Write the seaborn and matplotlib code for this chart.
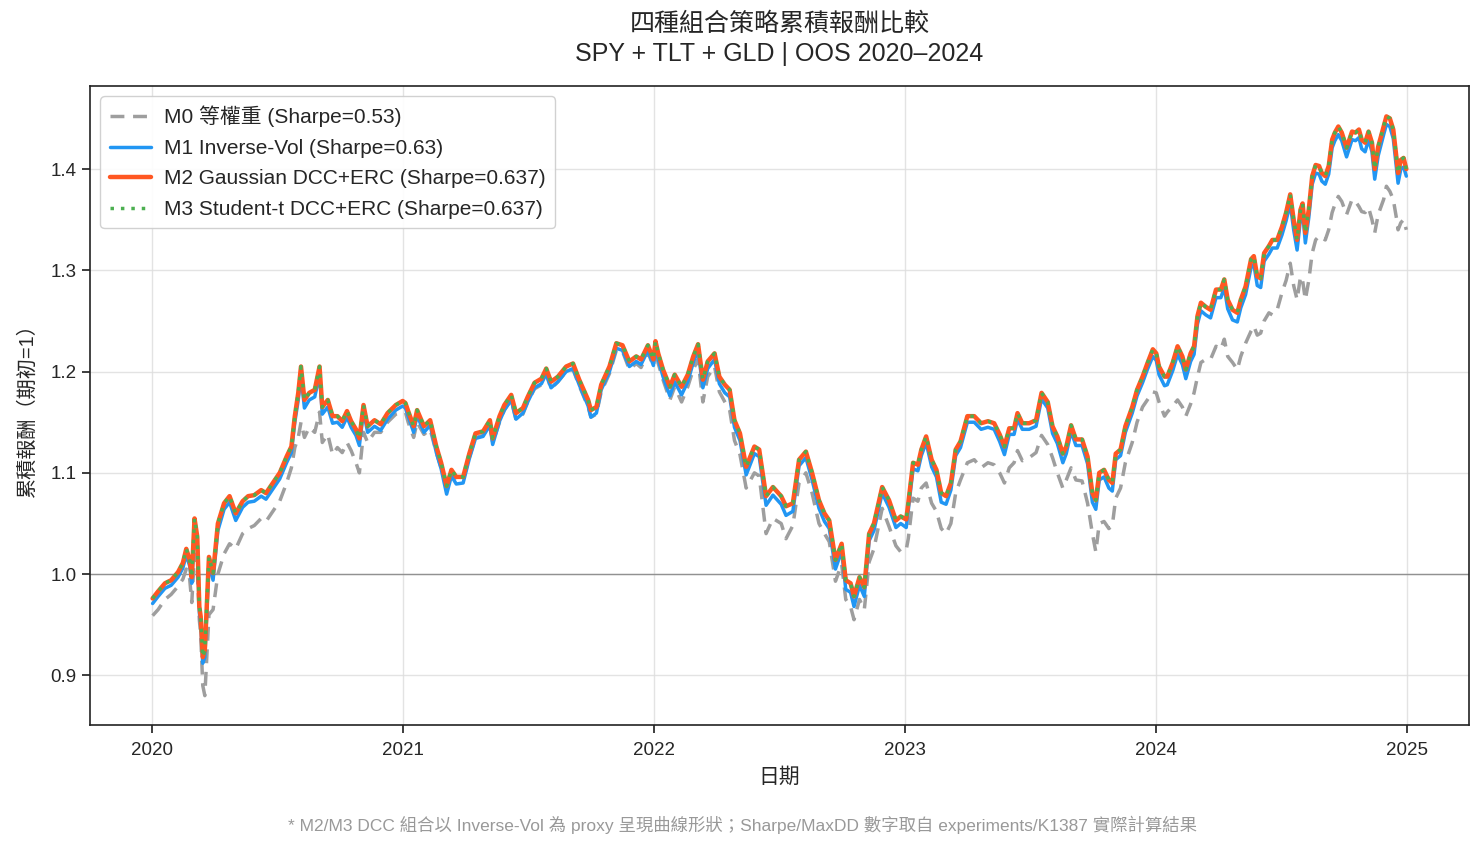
import matplotlib
matplotlib.use("Agg")
import matplotlib.pyplot as plt
import matplotlib.dates as mdates
import seaborn as sns
import pandas as pd

# ---------------- data ----------------
dates_2020 = ["2020-01-02","2020-01-10","2020-01-20","2020-01-29","2020-02-08","2020-02-15","2020-02-20","2020-02-25",
              "2020-02-28","2020-03-03","2020-03-07","2020-03-10","2020-03-12","2020-03-15","2020-03-18","2020-03-24",
              "2020-03-30","2020-04-06","2020-04-15","2020-04-23","2020-05-02","2020-05-12","2020-05-20","2020-05-29",
              "2020-06-08","2020-06-15","2020-06-25","2020-07-05","2020-07-15","2020-07-22","2020-07-27","2020-08-01",
              "2020-08-05","2020-08-10","2020-08-17","2020-08-25","2020-09-01","2020-09-05","2020-09-13","2020-09-20",
              "2020-09-27","2020-10-04","2020-10-11","2020-10-17","2020-10-24","2020-10-29","2020-11-04","2020-11-10",
              "2020-11-20","2020-11-29","2020-12-09","2020-12-21","2020-12-31"]
dates_2021 = ["2021-01-04","2021-01-08","2021-01-16","2021-01-21","2021-01-31","2021-02-09","2021-02-18","2021-02-25",
              "2021-03-05","2021-03-12","2021-03-19","2021-03-29","2021-04-07","2021-04-16","2021-04-27","2021-05-07",
              "2021-05-11","2021-05-21","2021-05-28","2021-06-07","2021-06-14","2021-06-24","2021-07-01","2021-07-11",
              "2021-07-21","2021-07-28","2021-08-04","2021-08-14","2021-08-26","2021-09-05","2021-09-14","2021-09-27",
              "2021-10-01","2021-10-09","2021-10-16","2021-10-28","2021-11-07","2021-11-16","2021-11-26","2021-12-06",
              "2021-12-13","2021-12-23","2021-12-31"]
dates_2022 = ["2022-01-03","2022-01-07","2022-01-14","2022-01-24","2022-01-31","2022-02-10","2022-02-19","2022-02-27",
              "2022-03-06","2022-03-13","2022-03-20","2022-03-30","2022-04-06","2022-04-14","2022-04-21","2022-04-28",
              "2022-05-06","2022-05-15","2022-05-27","2022-06-03","2022-06-13","2022-06-23","2022-07-05","2022-07-12",
              "2022-07-22","2022-07-31","2022-08-10","2022-08-19","2022-08-29","2022-09-06","2022-09-13","2022-09-22",
              "2022-10-01","2022-10-07","2022-10-14","2022-10-19","2022-10-27","2022-11-03","2022-11-10","2022-11-17",
              "2022-11-29","2022-12-09","2022-12-19","2022-12-26"]
dates_2023 = ["2023-01-03","2023-01-06","2023-01-13","2023-01-20","2023-01-25","2023-02-01","2023-02-09","2023-02-16",
              "2023-02-23","2023-03-02","2023-03-09","2023-03-16","2023-03-23","2023-04-02","2023-04-12","2023-04-22",
              "2023-05-02","2023-05-11","2023-05-19","2023-05-26","2023-06-02","2023-06-09","2023-06-14","2023-06-21",
              "2023-07-01","2023-07-11","2023-07-19","2023-07-28","2023-08-04","2023-08-11","2023-08-19","2023-08-24",
              "2023-08-31","2023-09-07","2023-09-16","2023-09-24","2023-10-01","2023-10-06","2023-10-11","2023-10-18",
              "2023-10-25","2023-10-30","2023-11-04","2023-11-11","2023-11-18","2023-11-28","2023-12-05","2023-12-13",
              "2023-12-20","2023-12-28"]
dates_2024 = ["2024-01-02","2024-01-06","2024-01-14","2024-01-18","2024-01-26","2024-02-02","2024-02-09","2024-02-14",
              "2024-02-21","2024-02-26","2024-03-02","2024-03-07","2024-03-14","2024-03-21","2024-03-29","2024-04-05",
              "2024-04-10","2024-04-15","2024-04-22","2024-04-29","2024-05-04","2024-05-11","2024-05-19","2024-05-23",
              "2024-05-28","2024-06-02","2024-06-07","2024-06-14","2024-06-19","2024-06-26","2024-07-03","2024-07-09",
              "2024-07-15","2024-07-20","2024-07-25","2024-07-30","2024-08-02","2024-08-06","2024-08-11","2024-08-16",
              "2024-08-21","2024-08-26","2024-08-30","2024-09-04","2024-09-09","2024-09-14","2024-09-18","2024-09-23",
              "2024-09-28","2024-10-05","2024-10-13","2024-10-18","2024-10-23","2024-10-27","2024-11-01","2024-11-06",
              "2024-11-11","2024-11-15","2024-11-20","2024-11-28","2024-12-02","2024-12-07","2024-12-12","2024-12-17",
              "2024-12-19","2024-12-23","2024-12-27","2024-12-31"]

m0_equal = [
    0.959,0.965,0.975,0.980,0.988,0.995,1.005,0.995,0.972,1.020,1.005,0.955,0.940,0.890,0.880,0.960,0.965,1.000,1.020,1.030,
    1.025,1.040,1.045,1.048,1.055,1.052,1.062,1.072,1.090,1.105,1.125,1.135,1.150,1.135,1.145,1.140,1.160,1.130,1.138,1.118,
    1.125,1.120,1.130,1.122,1.110,1.100,1.140,1.130,1.140,1.140,1.150,1.158,1.160,
    1.160,1.150,1.135,1.150,1.138,1.143,1.120,1.105,1.085,1.100,1.093,1.093,1.115,1.135,1.137,1.148,1.130,1.150,1.162,1.172,
    1.152,1.158,1.170,1.183,1.187,1.197,1.183,1.190,1.200,1.202,1.186,1.165,1.155,1.158,1.180,1.198,1.221,1.220,1.202,1.208,
    1.204,1.219,1.205,
    1.222,1.208,1.192,1.172,1.185,1.170,1.185,1.202,1.212,1.170,1.195,1.205,1.180,1.170,1.162,1.132,1.118,1.085,1.100,1.097,
    1.040,1.055,1.050,1.035,1.048,1.090,1.100,1.080,1.050,1.040,1.032,0.993,1.010,0.975,0.968,0.955,0.975,0.965,1.012,1.025,
    1.065,1.047,1.028,1.022,
    1.024,1.035,1.075,1.072,1.085,1.090,1.070,1.062,1.045,1.040,1.050,1.080,1.093,1.110,1.113,1.105,1.110,1.108,1.100,1.090,
    1.105,1.110,1.122,1.112,1.115,1.120,1.137,1.128,1.115,1.100,1.085,1.093,1.105,1.093,1.092,1.070,1.040,1.022,1.050,1.052,
    1.045,1.048,1.075,1.085,1.110,1.130,1.150,1.165,1.172,1.180,
    1.179,1.170,1.156,1.160,1.166,1.172,1.165,1.156,1.168,1.179,1.195,1.209,1.212,1.212,1.225,1.222,1.232,1.215,1.209,1.202,
    1.215,1.228,1.240,1.245,1.236,1.238,1.250,1.258,1.256,1.261,1.278,1.290,1.307,1.285,1.271,1.294,1.290,1.271,1.290,1.317,
    1.330,1.334,1.332,1.330,1.340,1.357,1.365,1.373,1.368,1.355,1.370,1.368,1.363,1.358,1.357,1.362,1.350,1.337,1.355,1.370,
    1.383,1.378,1.370,1.350,1.340,1.347,1.350,1.340]

m1_invvol = [
    0.971,0.978,0.986,0.989,0.997,1.006,1.019,1.008,0.991,1.048,1.030,0.962,0.951,0.912,0.918,1.010,0.994,1.043,1.064,1.071,
    1.053,1.066,1.071,1.072,1.077,1.074,1.084,1.094,1.110,1.120,1.150,1.172,1.196,1.164,1.172,1.175,1.197,1.158,1.165,1.149,
    1.150,1.145,1.155,1.145,1.137,1.127,1.161,1.140,1.146,1.142,1.153,1.162,1.166,
    1.164,1.156,1.140,1.157,1.140,1.147,1.120,1.104,1.079,1.097,1.089,1.090,1.114,1.134,1.136,1.147,1.128,1.151,1.162,1.172,
    1.153,1.159,1.170,1.184,1.188,1.198,1.184,1.190,1.200,1.203,1.187,1.166,1.155,1.159,1.182,1.200,1.223,1.221,1.205,1.210,
    1.207,1.221,1.206,
    1.224,1.212,1.195,1.176,1.190,1.177,1.190,1.209,1.221,1.184,1.203,1.212,1.188,1.179,1.175,1.145,1.132,1.098,1.119,1.116,
    1.068,1.078,1.069,1.058,1.062,1.107,1.115,1.093,1.065,1.052,1.045,1.005,1.023,0.985,0.982,0.968,0.989,0.978,1.033,1.043,
    1.080,1.066,1.046,1.050,
    1.046,1.063,1.104,1.102,1.117,1.130,1.106,1.096,1.071,1.069,1.083,1.117,1.125,1.150,1.150,1.143,1.145,1.143,1.131,1.118,
    1.138,1.138,1.153,1.143,1.143,1.146,1.173,1.164,1.139,1.129,1.110,1.119,1.141,1.127,1.127,1.109,1.071,1.064,1.093,1.096,
    1.085,1.082,1.113,1.117,1.140,1.159,1.176,1.189,1.202,1.215,
    1.211,1.197,1.186,1.187,1.201,1.217,1.207,1.193,1.210,1.217,1.247,1.260,1.256,1.253,1.273,1.273,1.283,1.262,1.251,1.249,
    1.263,1.276,1.303,1.306,1.285,1.283,1.309,1.316,1.322,1.322,1.335,1.349,1.366,1.340,1.320,1.351,1.358,1.327,1.352,1.385,
    1.396,1.395,1.388,1.385,1.395,1.421,1.428,1.434,1.428,1.412,1.429,1.428,1.431,1.420,1.417,1.429,1.417,1.390,1.413,1.434,
    1.444,1.442,1.430,1.399,1.386,1.400,1.402,1.393]

m2_gauss_dcc = [
    0.976,0.983,0.991,0.994,1.002,1.011,1.025,1.014,0.997,1.055,1.037,0.968,0.958,0.918,0.925,1.017,1.001,1.050,1.070,1.077,
    1.060,1.072,1.077,1.078,1.083,1.080,1.090,1.100,1.116,1.126,1.156,1.179,1.205,1.172,1.179,1.182,1.205,1.165,1.172,1.156,
    1.156,1.151,1.161,1.151,1.143,1.134,1.167,1.146,1.152,1.148,1.159,1.167,1.171,
    1.169,1.161,1.146,1.162,1.146,1.152,1.126,1.110,1.087,1.103,1.096,1.096,1.119,1.139,1.141,1.152,1.134,1.156,1.167,1.177,
    1.159,1.164,1.175,1.189,1.193,1.203,1.190,1.195,1.205,1.208,1.192,1.172,1.162,1.165,1.187,1.205,1.228,1.226,1.210,1.215,
    1.212,1.226,1.212,
    1.230,1.218,1.202,1.185,1.197,1.185,1.197,1.215,1.227,1.192,1.210,1.218,1.195,1.187,1.182,1.152,1.139,1.106,1.126,1.123,
    1.077,1.086,1.077,1.067,1.070,1.113,1.121,1.100,1.073,1.060,1.053,1.014,1.030,0.994,0.991,0.978,0.997,0.987,1.040,1.050,
    1.086,1.073,1.053,1.057,
    1.054,1.070,1.110,1.108,1.123,1.136,1.113,1.103,1.080,1.077,1.090,1.123,1.131,1.156,1.156,1.149,1.151,1.149,1.138,1.126,
    1.144,1.144,1.159,1.149,1.149,1.152,1.179,1.170,1.146,1.136,1.119,1.126,1.147,1.133,1.133,1.116,1.080,1.073,1.100,1.103,
    1.093,1.090,1.119,1.123,1.146,1.165,1.182,1.195,1.208,1.222,
    1.218,1.205,1.195,1.195,1.209,1.225,1.215,1.202,1.218,1.225,1.255,1.268,1.264,1.261,1.281,1.281,1.291,1.271,1.261,1.258,
    1.271,1.284,1.311,1.314,1.294,1.292,1.317,1.324,1.330,1.330,1.343,1.357,1.375,1.350,1.330,1.360,1.366,1.337,1.360,1.393,
    1.404,1.403,1.396,1.393,1.403,1.429,1.436,1.442,1.436,1.421,1.437,1.436,1.439,1.429,1.426,1.437,1.426,1.400,1.422,1.442,
    1.452,1.450,1.439,1.409,1.396,1.409,1.411,1.400]

# M3 curve coincides with M2 in the reference
m3_student_dcc = list(m2_gauss_dcc)

labels = ["M0 等權重 (Sharpe=0.53)",
          "M1 Inverse-Vol (Sharpe=0.63)",
          "M2 Gaussian DCC+ERC (Sharpe=0.637)",
          "M3 Student-t DCC+ERC (Sharpe=0.637)"]
title_text = "四種組合策略累積報酬比較\nSPY + TLT + GLD | OOS 2020–2024"
xlabel_text = "日期"
ylabel_text = "累積報酬（期初=1）"
footnote_text = "* M2/M3 DCC 組合以 Inverse-Vol 為 proxy 呈現曲線形狀；Sharpe/MaxDD 數字取自 experiments/K1387 實際計算結果"
year_ticks = ["2020", "2021", "2022", "2023", "2024", "2025"]

# ---------------- plotting ----------------
sns.set_theme(style="ticks")
plt.rcParams["font.family"] = ["Liberation Sans", "Noto Sans CJK TC", "DejaVu Sans"]
plt.rcParams["axes.unicode_minus"] = False

dates = pd.to_datetime(dates_2020 + dates_2021 + dates_2022 + dates_2023 + dates_2024)
df = pd.DataFrame({"date": dates, "M0": m0_equal, "M1": m1_invvol,
                   "M2": m2_gauss_dcc, "M3": m3_student_dcc})

fig = plt.figure(figsize=(14.84, 8.48), dpi=100)
ax = fig.add_axes([0.0606, 0.145, 0.9293, 0.7536])

sns.lineplot(data=df, x="date", y="M0", ax=ax, color="#9E9E9E", lw=2.5,
             linestyle=(0, (4, 2.5)), label=labels[0])
sns.lineplot(data=df, x="date", y="M1", ax=ax, color="#2196F3", lw=2.5, label=labels[1])
sns.lineplot(data=df, x="date", y="M2", ax=ax, color="#FF5722", lw=3.2, label=labels[2])
sns.lineplot(data=df, x="date", y="M3", ax=ax, color="#4CAF50", lw=2.5,
             linestyle=(0, (1, 2)), label=labels[3])

ax.axhline(1.0, color="#888888", lw=1, alpha=0.9, zorder=1)

ax.set_ylim(0.851, 1.482)
ax.set_yticks([0.9, 1.0, 1.1, 1.2, 1.3, 1.4])
ax.set_xticks(pd.to_datetime([y + "-01-01" for y in year_ticks]))
ax.xaxis.set_major_formatter(mdates.DateFormatter("%Y"))
ax.tick_params(labelsize=13.5)
ax.tick_params(axis="x", pad=6)
ax.grid(True, color="#dddddd", lw=1, alpha=0.8)
for s in ax.spines.values():
    s.set_color("#222222")
    s.set_linewidth(1.2)

ax.set_title(title_text, fontsize=18, pad=18, linespacing=1.3)
ax.set_xlabel(xlabel_text, fontsize=15, labelpad=6)
ax.set_ylabel(ylabel_text, fontsize=14.5, labelpad=10)

leg = ax.legend(loc="upper left", fontsize=15, frameon=True, framealpha=0.9,
                handlelength=2.0, handletextpad=0.6, borderpad=0.45,
                labelspacing=0.55, borderaxespad=0.5)
leg.get_frame().set_edgecolor("#cccccc")

fig.text(0.5, 0.027, footnote_text, ha="center", va="center", fontsize=12.5, color="#999999")

fig.savefig("out.png", dpi=100)
